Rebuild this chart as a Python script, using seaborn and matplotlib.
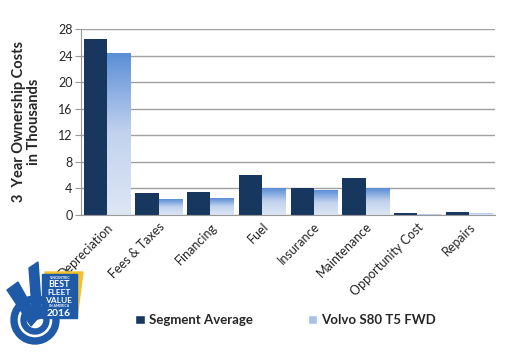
import numpy as np
import pandas as pd
import seaborn as sns
import matplotlib
matplotlib.use("Agg")
import matplotlib.pyplot as plt
from matplotlib.colors import LinearSegmentedColormap
from matplotlib.patches import Polygon, Wedge, Rectangle, Patch

categories = ["Depreciation", "Fees & Taxes", "Financing", "Fuel", "Insurance",
              "Maintenance", "Opportunity Cost", "Repairs"]
segment_avg = [26.5, 3.25, 3.4, 5.95, 4.05, 5.5, 0.25, 0.5]
volvo = [24.4, 2.35, 2.5, 4.05, 3.75, 4.05, 0.1, 0.35]
series_names = ["Segment Average", "Volvo S80 T5 FWD"]
yticks = [0, 4, 8, 12, 16, 20, 24, 28]

df = pd.DataFrame({
    "cat": categories * 2,
    "val": segment_avg + volvo,
    "series": [series_names[0]] * len(categories) + [series_names[1]] * len(categories),
})

sns.set_style("white")
plt.rcParams["font.family"] = ["Lato", "DejaVu Sans"]

dark = "#17375e"
grad = LinearSegmentedColormap.from_list("g", ["#dde6f4", "#c3d3ee", "#5a8ed6"])

fig = plt.figure(figsize=(5.1, 3.54), dpi=100)
ax = fig.add_axes([81 / 510, 1 - 215 / 354, 414 / 510, 186 / 354])

sns.barplot(data=df, x="cat", y="val", hue="series", ax=ax,
            palette=[dark, "#5a8ed6"], width=0.9, saturation=1,
            edgecolor="none", legend=False)

# gradient fill for the Volvo bars
for bar in ax.containers[1]:
    x0, y0 = bar.get_x(), bar.get_y()
    w, h = bar.get_width(), bar.get_height()
    bar.set_facecolor("none")
    im = ax.imshow(np.linspace(0, 1, 100).reshape(-1, 1), cmap=grad, aspect="auto",
                   origin="lower", extent=[x0, x0 + w, y0, y0 + h], zorder=2)
    im.set_clip_path(bar)
for bar in ax.containers[0]:
    bar.set_zorder(2)

ax.set_xlim(-0.5, len(categories) - 0.5)
ax.set_ylim(0, 28)
ax.set_yticks(yticks)
ax.yaxis.grid(True, color="#a0a0a0", linewidth=1)
ax.set_axisbelow(True)
for s in ["top", "right"]:
    ax.spines[s].set_visible(False)
ax.spines["left"].set_color("#999999")
ax.spines["bottom"].set_color("#999999")

ax.set_xticks(np.arange(len(categories)))
ax.set_xticklabels(categories, rotation=45, ha="right", rotation_mode="anchor",
                   fontsize=9, color="#222222")
ax.tick_params(axis="x", length=0, pad=4)
ax.set_xticks(np.arange(-0.5, len(categories)), minor=True)
ax.tick_params(axis="x", which="minor", length=4, color="#999999", direction="out")
ax.tick_params(axis="y", length=4, color="#999999", labelsize=9, pad=2, left=True)
ax.set_xlabel("")
ax.set_ylabel("3  Year Ownership Costs\nin Thousands", fontsize=10.5, fontweight="bold",
              labelpad=12, linespacing=1.1)

# legend
handles = [Patch(facecolor=dark), Patch(facecolor="#a9c1e8")]
fig.legend(handles, series_names, loc="center", bbox_to_anchor=(0.56, 1 - 320 / 354),
           ncol=2, frameon=False, prop={"weight": "bold", "size": 9.5},
           handlelength=0.7, handleheight=0.7, handletextpad=0.3, columnspacing=4.2)

# badge logo
lax = fig.add_axes([5 / 510, 1 - 346 / 354, 80 / 510, 88 / 354])
lax.set_xlim(0, 80)
lax.set_ylim(0, 88)
lax.axis("off")
blue = "#1f5aa8"
lax.add_patch(Wedge((30, 26), 24, 0, 360, width=6, color=blue))
lax.add_patch(Wedge((30, 26), 14, 0, 360, width=5, color=blue))
lax.add_patch(Polygon([[40, 74], [78, 74], [72, 28], [42, 28]], color="#f2c12e"))
lax.add_patch(Polygon([[2, 56], [13, 64], [33, 28], [26, 20]], color=blue))
lax.add_patch(Polygon([[24, 78], [33, 84], [37, 28], [28, 26]], color=blue))
lax.add_patch(Rectangle((37, 28), 35, 44, color=blue))
lax.text(54, 67, "VINCENTRIC", color="white", fontsize=2.5, ha="center", weight="bold")
lax.text(54, 59, "BEST", color="white", fontsize=6.5, ha="center", weight="bold")
lax.text(54, 51, "FLEET", color="white", fontsize=6, ha="center", weight="bold")
lax.text(54, 43, "VALUE", color="white", fontsize=6, ha="center", weight="bold")
lax.text(54, 39, "IN AMERICA", color="white", fontsize=2.5, ha="center", weight="bold")
lax.text(54, 30, "2016", color="white", fontsize=7.5, ha="center", weight="bold")

fig.savefig("out.png", dpi=100)
